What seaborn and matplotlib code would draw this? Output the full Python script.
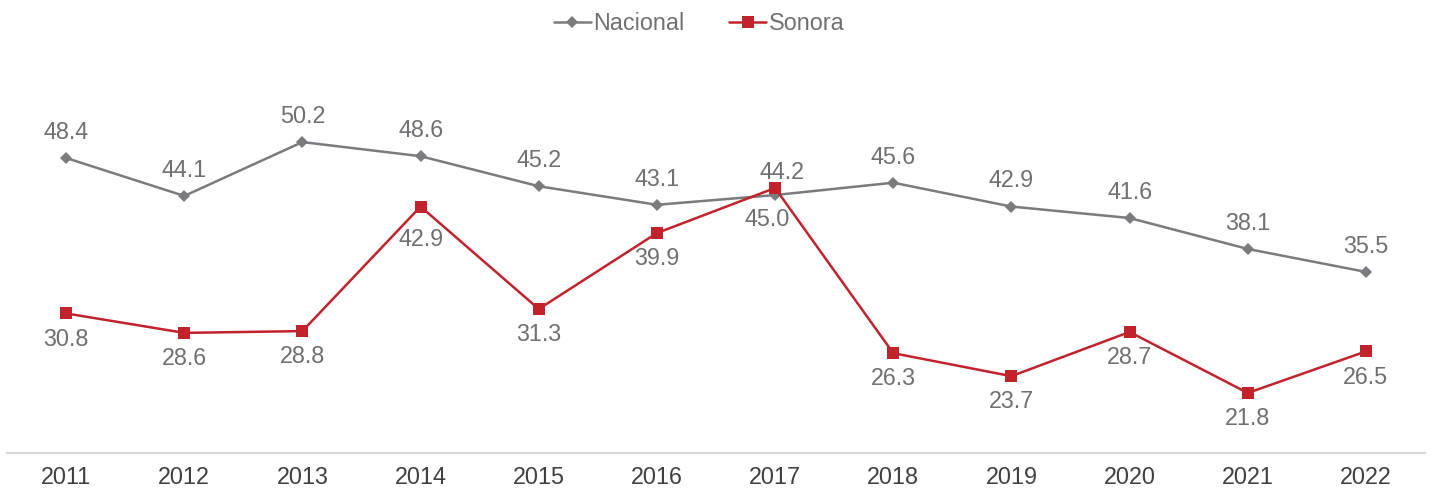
import pandas as pd
import numpy as np
import matplotlib.pyplot as plt
import seaborn as sns

years = [2011, 2012, 2013, 2014, 2015, 2016, 2017, 2018, 2019, 2020, 2021, 2022]
nacional = [48.4, 44.1, 50.2, 48.6, 45.2, 43.1, 44.2, 45.6, 42.9, 41.6, 38.1, 35.5]
sonora = [30.8, 28.6, 28.8, 42.9, 31.3, 39.9, 45.0, 26.3, 23.7, 28.7, 21.8, 26.5]

gray = "#7a7b7e"
red = "#c1222b"
text_color = "#6f7073"

sns.set_style("white")
plt.rcParams['font.family'] = ['Liberation Sans', 'DejaVu Sans']

fig = plt.figure(figsize=(14.34, 4.93), dpi=100)
ax = fig.add_axes([7 / 1434, 40 / 493, 1418 / 1434, 397.5 / 493])

df = pd.DataFrame({"year": years, "Nacional": nacional, "Sonora": sonora})

sns.lineplot(data=df, x="year", y="Nacional", ax=ax, color=gray, linewidth=1.8,
             marker="D", markersize=6.5, markeredgewidth=0, label="Nacional")
sns.lineplot(data=df, x="year", y="Sonora", ax=ax, color=red, linewidth=1.8,
             marker="s", markersize=8.5, markeredgewidth=0, label="Sonora")

# data labels: Nacional above, Sonora below (a few nudged like the original)
for x, v in zip(years, nacional):
    off = (5, 16.5) if x == 2017 else (0, 18.5)
    ax.annotate(f"{v:.1f}", (x, v), xytext=off, textcoords="offset points",
                ha="center", va="center", fontsize=16.8, color=text_color)
for x, v in zip(years, sonora):
    off = {2014: (0, -24), 2017: (-6, -23)}.get(x, (0, -18.5))
    ax.annotate(f"{v:.1f}", (x, v), xytext=off, textcoords="offset points",
                ha="center", va="center", fontsize=16.8, color=text_color)

ax.set_xlim(2010.5, 2022.5)
ax.set_ylim(15, 60)
ax.set_xticks(years)
ax.set_xticklabels([str(y) for y in years])
ax.set_yticks([])
ax.set_xlabel("")
ax.set_ylabel("")
ax.tick_params(axis="x", length=0, labelsize=16.8, labelcolor="#404040", pad=9)

for s in ["top", "left", "right"]:
    ax.spines[s].set_visible(False)
ax.spines["bottom"].set_color("#d9d9d9")
ax.spines["bottom"].set_linewidth(1.6)

leg = ax.legend(loc="upper center", bbox_to_anchor=(0.5 - 17 / 1418, 1 + 53 / 397.5), ncol=2,
                frameon=False, fontsize=16.8, handlelength=1.6, handletextpad=0.1,
                columnspacing=1.9, borderaxespad=0)
for t in leg.get_texts():
    t.set_color(text_color)

fig.savefig("out.png", dpi=100)
